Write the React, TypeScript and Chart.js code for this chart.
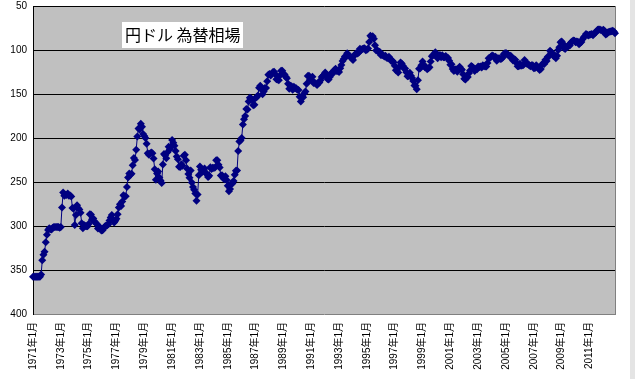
import { useEffect, useRef } from "react";
import { Chart, registerables } from "chart.js";

Chart.register(...registerables);

// 円ドル 為替相場 — monthly average USD/JPY, 1971年1月 〜 2012年11月
const startYear = 1971;
const chartTitle = "円ドル 為替相場";
const yMin = 50;
const yMax = 400;
const yStep = 50;
const labelEveryMonths = 24;

const rates1970s = [
  357.6, 357.6, 357.6, 357.6, 357.6, 357.6, 357.6, 355.2, 338.9, 332.8, 329.2, 318.5, // 1971
  310.0, 304.5, 302.5, 303.8, 304.0, 301.9, 301.1, 301.1, 301.1, 301.2, 301.2, 302.0, // 1972
  301.1, 279.0, 262.0, 265.5, 264.6, 264.7, 263.2, 265.5, 265.3, 266.6, 279.6, 280.0, // 1973
  299.0, 287.6, 276.3, 279.8, 281.3, 284.9, 297.0, 302.5, 299.0, 300.0, 300.2, 300.4, // 1974
  297.8, 286.6, 286.9, 292.9, 291.5, 294.9, 296.4, 297.8, 302.9, 302.1, 301.6, 305.2, // 1975
  304.9, 302.6, 300.5, 299.4, 299.2, 297.9, 293.8, 290.3, 287.6, 293.5, 296.0, 294.0, // 1976
  291.9, 286.7, 278.9, 275.2, 277.3, 272.3, 265.1, 266.4, 266.2, 255.8, 245.0, 240.4, // 1977
  241.7, 240.5, 231.1, 222.8, 225.1, 213.4, 198.4, 189.1, 190.4, 183.7, 187.1, 195.5, // 1978
  197.6, 200.1, 206.4, 217.4, 219.0, 217.6, 216.4, 217.4, 223.2, 235.6, 247.5, 240.2, // 1979
];

const rates1980s = [
  238.1, 244.9, 248.4, 251.0, 230.2, 218.1, 219.5, 223.0, 216.1, 210.0, 212.8, 209.8, // 1980
  202.2, 205.4, 208.8, 214.9, 221.1, 224.1, 232.6, 232.9, 229.8, 231.6, 220.2, 219.0, // 1981
  225.4, 235.0, 240.9, 245.1, 236.9, 250.6, 255.8, 258.7, 263.0, 271.3, 264.1, 242.4, // 1982
  232.3, 236.0, 238.3, 237.5, 234.8, 240.0, 240.5, 244.3, 242.9, 233.1, 235.1, 233.8, // 1983
  234.0, 233.6, 225.4, 225.3, 230.5, 233.4, 242.5, 242.3, 245.1, 246.9, 243.5, 247.7, // 1984
  254.2, 260.5, 257.9, 251.7, 251.6, 248.9, 241.7, 237.1, 236.8, 214.7, 204.1, 202.8, // 1985
  200.1, 184.8, 178.7, 175.1, 167.0, 167.5, 158.6, 154.2, 154.7, 156.5, 162.7, 162.1, // 1986
  154.5, 153.5, 151.6, 143.0, 140.5, 144.5, 150.2, 147.3, 143.3, 143.3, 135.4, 128.2, // 1987
  127.4, 129.0, 127.1, 124.9, 124.8, 127.5, 133.2, 133.6, 134.5, 129.1, 123.6, 123.6, // 1988
  127.2, 127.8, 130.4, 132.0, 138.4, 143.9, 140.6, 141.2, 145.1, 141.9, 143.5, 143.6, // 1989
];

const rates1990s = [
  145.1, 145.5, 153.2, 158.5, 153.5, 153.6, 149.2, 147.2, 138.4, 129.6, 129.2, 133.9, // 1990
  133.7, 130.5, 137.4, 137.1, 138.2, 139.8, 137.8, 136.8, 134.3, 130.8, 129.6, 128.0, // 1991
  125.5, 127.7, 132.9, 133.6, 130.7, 126.8, 125.8, 126.2, 122.6, 121.2, 123.9, 123.9, // 1992
  125.0, 120.8, 117.0, 112.4, 110.3, 107.4, 107.7, 103.8, 105.7, 107.0, 107.7, 109.7, // 1993
  111.5, 106.2, 105.1, 103.5, 104.0, 102.7, 98.5, 100.0, 98.8, 98.4, 98.0, 100.2, // 1994
  99.8, 98.2, 90.8, 83.7, 85.2, 84.5, 87.2, 94.6, 100.5, 100.3, 101.9, 101.9, // 1995
  105.8, 105.8, 105.9, 107.4, 106.5, 108.8, 109.2, 107.8, 109.9, 112.4, 112.3, 113.9, // 1996
  118.0, 123.0, 122.7, 125.5, 119.0, 114.3, 115.4, 117.9, 120.9, 121.1, 125.4, 129.7, // 1997
  129.6, 125.8, 129.2, 131.8, 135.1, 140.4, 140.7, 144.7, 134.5, 121.3, 120.6, 117.4, // 1998
  113.2, 116.7, 119.7, 119.7, 122.0, 120.7, 119.7, 113.2, 107.0, 106.0, 104.7, 102.6, // 1999
];

const rates2000s = [
  105.2, 109.4, 106.3, 105.6, 108.3, 106.1, 108.2, 108.1, 106.8, 108.4, 109.0, 112.2, // 2000
  116.7, 116.2, 121.5, 123.8, 121.8, 122.2, 124.6, 121.5, 118.9, 121.3, 122.4, 127.6, // 2001
  132.7, 133.6, 131.1, 130.8, 126.4, 123.3, 118.1, 119.0, 120.5, 123.9, 121.6, 121.9, // 2002
  118.8, 119.3, 118.7, 119.9, 117.4, 118.3, 118.7, 118.7, 114.8, 109.5, 109.2, 107.7, // 2003
  106.3, 106.7, 108.5, 107.7, 112.2, 109.4, 109.4, 110.2, 110.0, 108.8, 104.7, 103.8, // 2004
  103.3, 104.9, 105.3, 107.3, 106.6, 108.7, 111.9, 110.6, 111.2, 114.9, 118.5, 118.5, // 2005
  115.5, 117.9, 117.3, 117.1, 111.5, 114.5, 115.6, 115.9, 117.2, 118.6, 117.3, 117.3, // 2006
  120.6, 120.5, 117.3, 118.8, 120.8, 122.6, 121.6, 116.7, 115.0, 115.8, 111.0, 112.4, // 2007
  107.8, 107.1, 100.8, 102.6, 104.1, 106.9, 106.1, 109.4, 106.6, 100.1, 96.8, 91.3, // 2008
  90.3, 92.6, 97.8, 98.9, 96.6, 96.6, 94.5, 94.9, 91.4, 90.3, 89.2, 89.6, // 2009
];

const rates2010s = [
  91.1, 90.2, 90.7, 93.5, 91.8, 90.9, 87.7, 85.4, 84.4, 81.8, 82.6, 83.4, // 2010
  82.6, 82.5, 81.8, 83.3, 81.2, 80.5, 79.3, 77.1, 76.8, 76.7, 77.5, 77.8, // 2011
  76.9, 78.5, 82.4, 81.5, 79.7, 79.3, 79.0, 78.7, 78.2, 79.0, 80.9, // 2012
];

const rates = [...rates1970s, ...rates1980s, ...rates1990s, ...rates2000s, ...rates2010s];

const monthLabels: string[] = rates.map((_, i) => {
  const y = startYear + Math.floor(i / 12);
  const m = (i % 12) + 1;
  return `${y}年${m}月`;
});

const FONT = '"Liberation Sans", "Noto Sans CJK JP", sans-serif';
const TITLE_FONT = '"Noto Sans CJK JP", sans-serif';
const SHIFT = 6; // canvas is shifted up so the plot top lands on the page's 6px line

const decorPlugin = {
  id: "decor",
  beforeDraw(chart: any) {
    const { ctx, chartArea: a, width, height } = chart;
    ctx.save();
    ctx.fillStyle = "#ffffff";
    ctx.fillRect(0, 0, width, height);
    ctx.fillStyle = "#e4e4e4";
    ctx.fillRect(630, 0, width - 630, height);
    ctx.fillStyle = "#c0c0c0";
    ctx.fillRect(a.left, a.top, a.right - a.left, a.bottom - a.top);
    ctx.restore();
  },
  beforeDatasetsDraw(chart: any) {
    const { ctx, chartArea: a } = chart;
    ctx.save();
    ctx.strokeStyle = "#808080";
    ctx.lineWidth = 1;
    ctx.beginPath();
    ctx.moveTo(Math.round(a.right) + 0.5, a.top);
    ctx.lineTo(Math.round(a.right) + 0.5, a.bottom + 1);
    ctx.stroke();
    ctx.restore();
  },
  afterDatasetsDraw(chart: any) {
    const { ctx } = chart;
    ctx.save();
    ctx.fillStyle = "#ffffff";
    ctx.fillRect(122, 22 + SHIFT, 121, 26);
    ctx.fillStyle = "#000000";
    ctx.font = `16px ${TITLE_FONT}`;
    ctx.textBaseline = "middle";
    ctx.textAlign = "left";
    ctx.fillText(chartTitle, 125, 35 + SHIFT);
    ctx.restore();
  },
};

export default function App() {
  const canvasRef = useRef<HTMLCanvasElement | null>(null);

  useEffect(() => {
    if (!canvasRef.current) return;
    const chart = new Chart(canvasRef.current, {
      type: "line",
      data: {
        labels: monthLabels,
        datasets: [
          {
            data: rates,
            borderColor: "#000080",
            backgroundColor: "#000080",
            borderWidth: 1,
            pointStyle: "rectRot",
            pointRadius: 4,
            pointBorderWidth: 0,
            pointBackgroundColor: "#000080",
            tension: 0,
          },
        ],
      },
      options: {
        responsive: false,
        animation: false,
        devicePixelRatio: 1,
        layout: { padding: { top: 0, right: 20, left: 0, bottom: 0 } },
        plugins: {
          legend: { display: false },
          title: { display: false },
          tooltip: { enabled: false },
        },
        scales: {
          x: {
            type: "category",
            offset: false,
            grid: { display: false, drawTicks: false },
            border: { display: false },
            afterFit(scale: any) {
              scale.height = 65;
            },
            ticks: {
              autoSkip: false,
              maxRotation: 90,
              minRotation: 90,
              padding: 8,
              color: "#000",
              font: { size: 10, family: FONT },
              callback(this: any, val: any, idx: number) {
                return idx % labelEveryMonths === 0 ? monthLabels[idx] : null;
              },
            },
          },
          y: {
            reverse: true,
            min: yMin,
            max: yMax,
            afterFit(scale: any) {
              scale.width = 33;
            },
            grid: {
              color: (c: any) => (c.tick && c.tick.value === yMax ? "#808080" : "#000000"),
              lineWidth: 1,
              drawTicks: false,
            },
            border: { display: true, color: "#000000", width: 1 },
            ticks: {
              stepSize: yStep,
              padding: 6,
              color: "#000",
              font: { size: 10, family: FONT },
            },
          },
        },
      },
      plugins: [decorPlugin],
    });
    return () => chart.destroy();
  }, []);

  return (
    <div style={{ position: "absolute", left: 0, top: -SHIFT, width: 635, height: 379 + SHIFT, overflow: "hidden" }}>
      <canvas ref={canvasRef} width={635} height={379 + SHIFT} />
    </div>
  );
}
